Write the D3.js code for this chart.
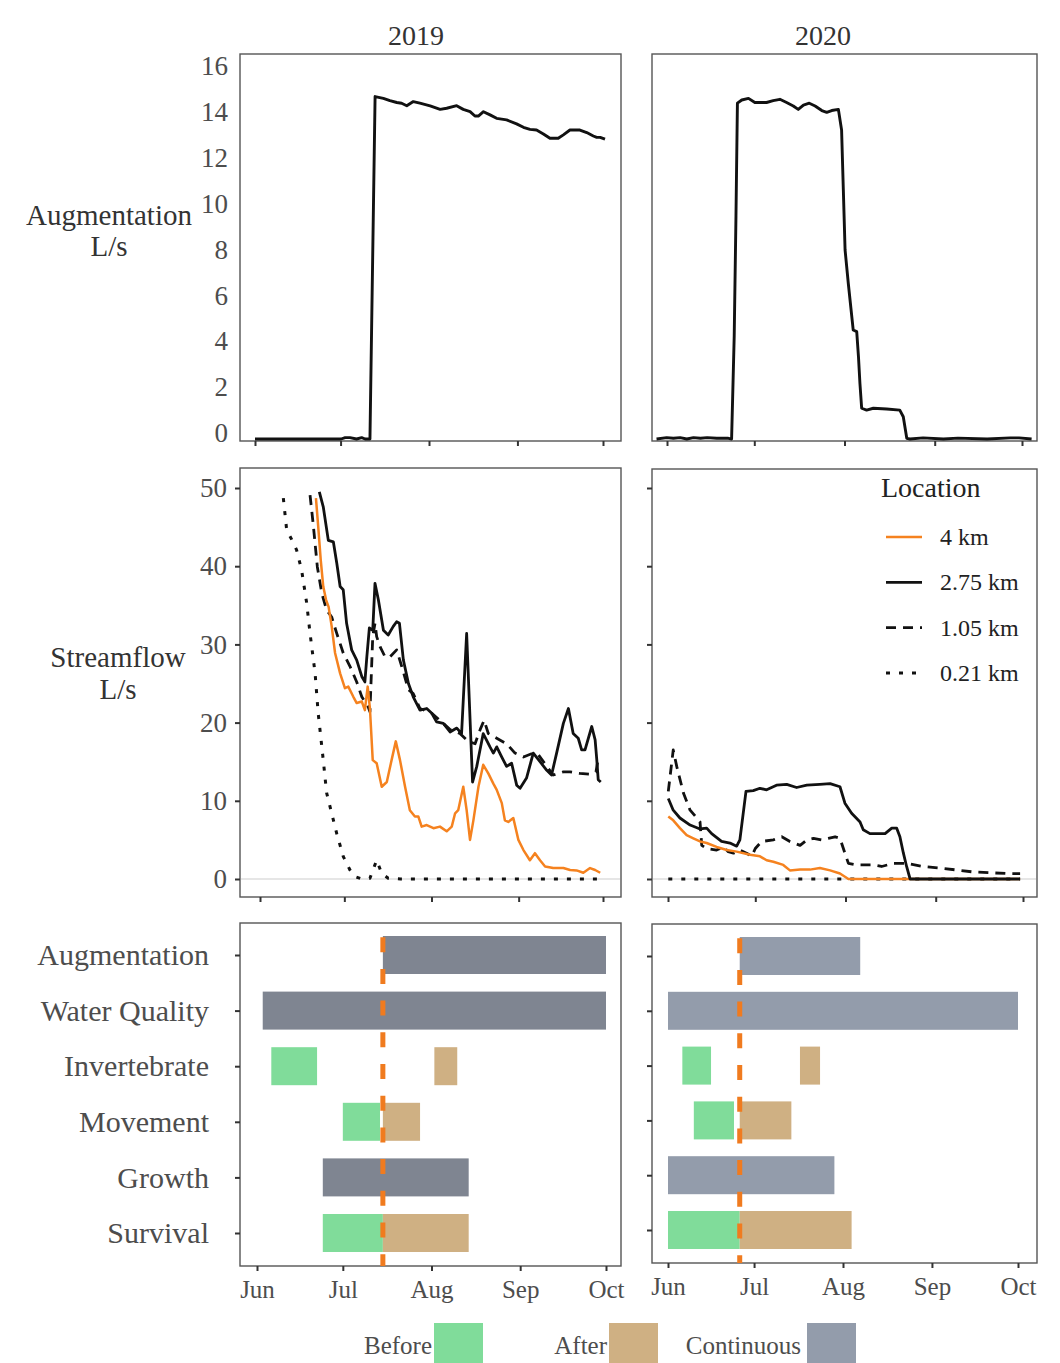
<!DOCTYPE html>
<html>
<head>
<meta charset="utf-8">
<script src="https://cdn.jsdelivr.net/npm/d3@7"></script>
<style>
  body { margin: 0; background: #fff; }
  svg text { font-family: "Liberation Serif", "Times New Roman", serif; }
</style>
</head>
<body>
<svg id="chart" width="1060" height="1363"></svg>
<script>
// data +++++++++++++++++++++++++++++++++++++++++
const years = [2019, 2020];
const categories = ["Augmentation", "Water Quality", "Invertebrate", "Movement", "Growth", "Survival"];
const phases = ["Before", "After", "Continuous"];
const locations = ["4 km", "2.75 km", "1.05 km", "0.21 km"];
const monthTicks = ["06-01", "07-01", "08-01", "09-01", "10-01"];
const augTicks = [0, 2, 4, 6, 8, 10, 12, 14, 16];
const flowTicks = [0, 10, 20, 30, 40, 50];
const augStart = { 2019: "07-15", 2020: "06-26" };

// series are [days since Jun 1, value]
const augmentation2019 = [[0,0],[30.2,0],[31.6,0.06],[33.3,0.06],[35.6,0],[37.4,0.06],[38.6,0],[40.3,0],[42.1,14.93],[45,14.85],[47.3,14.75],[49.7,14.67],[51.4,14.64],[53.2,14.53],[55.5,14.71],[57.8,14.64],[61.4,14.52],[64.9,14.37],[67.2,14.42],[70.7,14.53],[73,14.37],[75.4,14.27],[77.1,14.08],[78.3,14.08],[80.1,14.27],[82.4,14.13],[84.7,13.98],[88.2,13.91],[91.7,13.74],[94.1,13.59],[96.4,13.5],[98.7,13.47],[101.1,13.3],[103.4,13.11],[106.3,13.11],[108.1,13.26],[110.4,13.47],[113.9,13.47],[116.3,13.36],[118.6,13.21],[119.8,13.15],[121,13.15],[122.7,13.07]];
const augmentation2020 = [[-3.6,0],[-0.1,0.06],[2.2,0.03],[4.5,0.06],[6.8,0],[9.1,0.06],[11.5,0.03],[13.8,0.06],[17.1,0.03],[21.1,0.03],[22.2,0],[22.6,2.0],[23.1,4.5],[23.7,9.7],[24.2,14.64],[25.7,14.78],[28,14.85],[30.2,14.67],[34.2,14.67],[36.5,14.75],[38.8,14.81],[41.1,14.67],[43.4,14.52],[45.1,14.37],[46.9,14.56],[48.9,14.64],[50.9,14.52],[53.2,14.32],[54.9,14.24],[56.6,14.32],[58.9,14.37],[60,13.47],[60.6,10.86],[61.2,8.24],[62.3,6.79],[64,4.75],[65.2,4.68],[65.8,3.59],[66.3,2.43],[66.9,1.34],[68.6,1.26],[70.9,1.34],[75.5,1.31],[80,1.26],[81.2,0.97],[82.4,0.03],[83.5,0],[88,0.05],[95,0],[100,0.04],[110,0],[118,0.05],[121,0.05],[125.3,0]];

const flow4km2019 = [[19.9,48.7],[20.7,45.1],[21.6,40.8],[22.5,37.4],[23.5,35.7],[24.4,34.8],[25.5,32.3],[26.7,28.9],[28.5,26.3],[30.2,24.4],[31.4,24.6],[33.2,23.3],[34.4,22.5],[36.2,22.7],[37.3,21.6],[38.3,24.6],[39.1,21.8],[40.1,15.2],[41.5,14.8],[43.3,11.8],[45.1,12.4],[46.8,15.2],[48.3,17.6],[49.8,15.2],[51.6,11.8],[53.3,8.8],[55.1,8.0],[56.3,8.0],[57.5,6.7],[59.3,6.9],[61.7,6.5],[64,6.7],[66.4,6.1],[68.2,6.7],[69.4,8.4],[70.5,8.8],[72.3,11.8],[73.5,8.8],[74.7,5.0],[75.9,7.5],[77.7,11.8],[79.4,14.6],[81.2,13.5],[83,12.2],[84.2,11.4],[86,9.7],[87.1,7.5],[88.3,7.3],[90.1,7.8],[91.9,5.0],[93.7,3.7],[96,2.4],[97.8,3.3],[99.6,2.4],[101.4,1.6],[104.3,1.4],[107.9,1.4],[110.3,1.15],[112.6,1.1],[115,0.8],[117.4,1.4],[119.2,1.15],[121,0.8]];
const flow275km2019 = [[21.1,49.5],[22.5,47.6],[24.3,43.3],[26.1,43.1],[27.3,40.4],[28.5,37.4],[29.6,37.0],[30.8,32.7],[32.6,29.3],[34.4,28.0],[36.2,25.9],[37.3,25.2],[38,28.4],[38.9,32.1],[40.1,31.8],[40.9,37.8],[42.1,35.7],[43.9,31.8],[45.6,31.2],[47.4,32.3],[48.6,32.9],[49.6,32.7],[51,28],[52.8,25.0],[54.5,23.3],[56.9,21.6],[59.3,21.8],[61.1,21.2],[62.8,20.1],[65.2,19.9],[67.6,18.8],[70,19.3],[71.7,18.6],[73.5,31.4],[75.6,12.4],[77.1,14.4],[79.4,18.6],[81.8,16.9],[83,16.1],[84.2,16.9],[86,15.6],[87.7,14.4],[89.5,14.8],[91.3,12.0],[92.5,11.6],[94.8,12.9],[97.2,16.1],[99.6,15.0],[102,13.9],[103.7,13.3],[105.5,16.1],[107.9,19.9],[109.7,21.8],[111.4,18.6],[113.2,18.0],[114.4,16.5],[115.6,16.5],[118,19.5],[119.2,17.8],[119.8,15.2],[120.3,12.7],[121.2,12.4]];
const flow105km2019 = [[17.8,49.1],[19,45.1],[20.4,39.9],[22,36.5],[23.7,34.4],[25.5,33.5],[27.3,31.4],[29.6,28.9],[32,27.2],[34.4,25.2],[36.2,23.3],[38.5,22.0],[39.1,21.4],[40.1,31.0],[40.9,32.7],[41.5,31.0],[42.7,29.7],[44.5,28.4],[46.2,28.4],[48.6,29.3],[50.4,27.2],[52.8,24.2],[54.5,23.7],[56.9,21.8],[61.1,21.2],[65.2,19.9],[67.6,19.1],[71.1,18.6],[74.1,17.6],[76.5,17.3],[78.3,19.1],[79.7,20.3],[81.2,18.6],[84.2,18.0],[87.7,17.3],[90.7,16.1],[93.7,15.6],[97.2,16.1],[99,15.9],[102,14.4],[104.3,13.3],[107.9,13.7],[110.3,13.7],[113.8,13.5],[117.4,13.4],[119.5,13.7],[120.3,15.4],[121.2,15.6]];
const flow021km2019 = [[8.3,48.7],[9.5,44.6],[11.3,43.4],[13,42.1],[14.8,39.5],[16.6,35.3],[17.8,31.4],[19.6,26.3],[20.7,21.2],[22.5,15.2],[23.7,11.0],[25.5,8.4],[27.3,5.8],[29.6,2.9],[32,1.15],[33.8,0.3],[36.2,0],[39.1,0.1],[41.5,2.4],[43.3,0.7],[45.6,0.1],[50,0],[121.2,0]];

const flow4km2020 = [[0.1,8.0],[1.8,7.5],[4.1,6.5],[6.4,5.6],[8.7,5.2],[11,4.8],[13.3,4.6],[16.7,4.1],[20.2,3.7],[23.6,3.5],[28.2,3.1],[31.6,2.9],[33.9,2.4],[36.2,2.2],[39.6,1.8],[41.9,1.1],[45.4,1.2],[48.8,1.2],[52.2,1.4],[55.7,1.1],[59.1,0.7],[62,0],[121,0]];
const flow275km2020 = [[0.1,10.3],[1.8,8.8],[4.1,7.8],[7.6,6.9],[11,6.4],[13.3,6.5],[15,5.8],[18.4,4.8],[21.3,4.6],[23.6,4.2],[24.7,5.0],[26.8,11.2],[29.3,11.3],[31.6,11.6],[33.9,11.4],[37.3,12.0],[40.8,12.1],[44.2,11.7],[47.7,12.0],[52.2,12.1],[55.7,12.2],[59.1,11.8],[60.8,9.7],[63.1,8.4],[66,7.3],[67.1,6.3],[69.4,5.8],[71.7,5.8],[74.6,5.8],[76.9,6.5],[78.6,6.5],[79.7,5.4],[80.9,3.3],[82,1.6],[83.2,0],[121,0]];
const flow105km2020 = [[0.1,11.2],[1.8,16.5],[3,14.4],[5.3,11.0],[7.6,8.8],[9.9,7.8],[11,7.3],[11.6,4.3],[13.3,3.9],[16.7,3.7],[19,4.1],[20.7,3.5],[22.5,3.3],[24.7,3.7],[27,3.3],[28.8,2.9],[30,3.9],[32.2,4.8],[36.2,5.0],[39.1,5.4],[41.9,4.8],[45.4,4.3],[47.7,5.0],[50,5.2],[52.8,5.0],[55.1,5.2],[57.4,5.4],[59.1,5.2],[60.8,3.3],[62,2.0],[64.8,1.8],[70.6,1.8],[73.4,1.6],[77.4,2.0],[82,2.0],[87.7,1.6],[93.5,1.4],[99.2,1.15],[104.9,0.9],[110.7,0.8],[116.4,0.7],[121,0.7]];
const flow021km2020 = [[0.1,0],[121,0]];

// study periods: [category, phase, start, end]
const periods2019 = [
  ["Augmentation", "Continuous", "07-15", "10-01"],
  ["Water Quality", "Continuous", "06-03", "10-01"],
  ["Invertebrate", "Before", "06-06", "06-22"],
  ["Invertebrate", "After", "08-02", "08-10"],
  ["Movement", "Before", "07-01", "07-14"],
  ["Movement", "After", "07-15", "07-28"],
  ["Growth", "Continuous", "06-24", "08-14"],
  ["Survival", "Before", "06-24", "07-15"],
  ["Survival", "After", "07-15", "08-14"]
];
const periods2020 = [
  ["Augmentation", "Continuous", "06-26", "08-07"],
  ["Water Quality", "Continuous", "06-01", "10-01"],
  ["Invertebrate", "Before", "06-06", "06-16"],
  ["Invertebrate", "After", "07-17", "07-24"],
  ["Movement", "Before", "06-10", "06-24"],
  ["Movement", "After", "06-26", "07-14"],
  ["Growth", "Continuous", "06-01", "07-29"],
  ["Survival", "Before", "06-01", "06-26"],
  ["Survival", "After", "06-26", "08-04"]
];
// data -------------------------------------------

const augSeries = { 2019: augmentation2019, 2020: augmentation2020 };
const flowSeries = {
  2019: [flow021km2019, flow105km2019, flow4km2019, flow275km2019],
  2020: [flow021km2020, flow105km2020, flow4km2020, flow275km2020]
};
const flowLocs = ["0.21 km", "1.05 km", "4 km", "2.75 km"]; // drawing order
const periods = { 2019: periods2019, 2020: periods2020 };

const lineStyle = {
  "4 km":    { stroke: "#f5821f", width: 2.5, dash: null },
  "2.75 km": { stroke: "#111", width: 2.8, dash: null },
  "1.05 km": { stroke: "#111", width: 2.8, dash: "10,7" },
  "0.21 km": { stroke: "#111", width: 3, dash: "4,9" }
};
const phaseColor = { Before: "#80dc9a", After: "#cfb083" };
const contColor = { 2019: "#7f8591", 2020: "#939cab" };
const orange = "#f07b1f";

// panel frames (px)
const cols = { 2019: { x0: 240, x1: 621 }, 2020: { x0: 652, x1: 1037 } };
const rows = {
  aug:  { 2019: { y0: 54, y1: 441, jun: 255, oct: 603 },  2020: { y0: 54, y1: 441, jun: 667, oct: 1022 } },
  flow: { 2019: { y0: 468, y1: 897, jun: 260, oct: 603 }, 2020: { y0: 469, y1: 897, jun: 668, oct: 1023 } },
  per:  { 2019: { y0: 923, y1: 1266, jun: 257, oct: 606 }, 2020: { y0: 924, y1: 1263, jun: 668, oct: 1018 } }
};

const svg = d3.select("#chart");
svg.append("rect").attr("width", 1060).attr("height", 1363).attr("fill", "#fff");

const parse = d3.timeParse("%Y-%m-%d");
const jun1 = yr => new Date(yr, 5, 1);
const fromDays = (yr, d) => new Date(+jun1(yr) + d * 864e5);

function xScale(yr, p) {
  return d3.scaleTime().domain([jun1(yr), new Date(yr, 9, 1)]).range([p.jun, p.oct]);
}

function styleAxis(g, fontSize) {
  g.select(".domain").remove();
  g.selectAll(".tick line").attr("stroke", "#333").attr("stroke-width", 2);
  g.selectAll(".tick text").attr("fill", "#4d4d4d").attr("font-size", fontSize);
}

function frame(yr, p) {
  svg.append("rect")
    .attr("x", cols[yr].x0).attr("y", p.y0)
    .attr("width", cols[yr].x1 - cols[yr].x0).attr("height", p.y1 - p.y0)
    .attr("fill", "none").attr("stroke", "#555").attr("stroke-width", 1.4);
}

function xAxis(yr, p, x, labels) {
  const g = svg.append("g").attr("transform", `translate(0,${p.y1})`)
    .call(d3.axisBottom(x)
      .tickValues(monthTicks.map(m => parse(`${yr}-${m}`)))
      .tickSize(5).tickPadding(9)
      .tickFormat(labels ? d3.timeFormat("%b") : ""));
  styleAxis(g, 25);
}

years.forEach(yr => {
  const c = cols[yr];

  // column title
  svg.append("text").attr("x", yr === 2019 ? 416 : 823).attr("y", 45)
    .attr("text-anchor", "middle").attr("font-size", 28).attr("fill", "#333").text(yr);

  // augmentation panel
  const pa = rows.aug[yr];
  const xa = xScale(yr, pa);
  const ya = d3.scaleLinear().domain([0, 16]).range([439, 72]);
  frame(yr, pa);
  if (yr === 2019) {
    // labels sit slightly above the baseline, as in the source figure
    const g = svg.append("g").attr("transform", `translate(${c.x0},-6)`)
      .call(d3.axisLeft(ya).tickValues(augTicks).tickSize(0).tickPadding(12));
    styleAxis(g, 27);
  }
  xAxis(yr, pa, xa, false);
  svg.append("path").datum(augSeries[yr])
    .attr("fill", "none").attr("stroke", "#111").attr("stroke-width", 2.9)
    .attr("stroke-linejoin", "round")
    .attr("d", d3.line().x(d => xa(fromDays(yr, d[0]))).y(d => ya(d[1])));

  // streamflow panel
  const pf = rows.flow[yr];
  const xf = xScale(yr, pf);
  const yf = d3.scaleLinear().domain([0, 50]).range([879, 488]);
  frame(yr, pf);
  const gy = svg.append("g").attr("transform", `translate(${c.x0},0)`)
    .call(d3.axisLeft(yf).tickValues(flowTicks).tickSize(5).tickPadding(8)
      .tickFormat(yr === 2019 ? d3.format("d") : ""));
  styleAxis(gy, 27);
  xAxis(yr, pf, xf, false);
  svg.append("line").attr("x1", c.x0 + 1).attr("x2", c.x1 - 1)
    .attr("y1", yf(0)).attr("y2", yf(0))
    .attr("stroke", "#e6e6e6").attr("stroke-width", 2);
  flowSeries[yr].forEach((s, i) => {
    const st = lineStyle[flowLocs[i]];
    svg.append("path").datum(s)
      .attr("fill", "none").attr("stroke", st.stroke).attr("stroke-width", st.width)
      .attr("stroke-dasharray", st.dash)
      .attr("stroke-linejoin", "round")
      .attr("d", d3.line().x(d => xf(fromDays(yr, d[0]))).y(d => yf(d[1])));
  });

  // study period panel
  const pp = rows.per[yr];
  const xp = xScale(yr, pp);
  const yp = d3.scalePoint().domain(categories).range([pp.y0 + 32, pp.y1 - 33]);
  frame(yr, pp);
  const gc = svg.append("g").attr("transform", `translate(${c.x0},0)`)
    .call(d3.axisLeft(yp).tickSize(5).tickPadding(26)
      .tickFormat(yr === 2019 ? (d => d) : ""));
  styleAxis(gc, 30);
  xAxis(yr, pp, xp, true);
  svg.append("g").selectAll("rect").data(periods[yr]).join("rect")
    .attr("x", d => xp(parse(`${yr}-${d[2]}`)))
    .attr("width", d => xp(parse(`${yr}-${d[3]}`)) - xp(parse(`${yr}-${d[2]}`)))
    .attr("y", d => yp(d[0]) - 19).attr("height", 38)
    .attr("fill", d => d[1] === "Continuous" ? contColor[yr] : phaseColor[d[1]]);
  const xs = xp(parse(`${yr}-${augStart[yr]}`));
  svg.append("line").attr("x1", xs).attr("x2", xs)
    .attr("y1", pp.y0).attr("y2", pp.y1)
    .attr("stroke", orange).attr("stroke-width", 5)
    .attr("stroke-dasharray", "15,16.7").attr("stroke-dashoffset", 17.5);
});

// y axis titles
[["Augmentation", 109, 225], ["L/s", 109, 256], ["Streamflow", 118, 667], ["L/s", 118, 699]]
  .forEach(([t, x, y]) => svg.append("text").attr("x", x).attr("y", y)
    .attr("text-anchor", "middle").attr("font-size", 29).attr("fill", "#333").text(t));

// location legend
const leg = svg.append("g");
leg.append("text").attr("x", 881).attr("y", 497).attr("font-size", 28).attr("fill", "#222").text("Location");
locations.forEach((loc, i) => {
  const y = 537 + i * 45.3;
  const st = lineStyle[loc];
  leg.append("line").attr("x1", 886).attr("x2", 922).attr("y1", y).attr("y2", y)
    .attr("stroke", st.stroke).attr("stroke-width", st.width).attr("stroke-dasharray", st.dash);
  leg.append("text").attr("x", 940).attr("y", y + 8).attr("font-size", 24).attr("fill", "#222").text(loc);
});

// phase legend
const phaseLegend = [["Before", 432, 434], ["After", 607, 609], ["Continuous", 801, 807]];
phaseLegend.forEach(([name, tx, sx], i) => {
  svg.append("text").attr("x", tx).attr("y", 1354).attr("text-anchor", "end")
    .attr("font-size", 25).attr("fill", "#4d4d4d").text(phases[i]);
  svg.append("rect").attr("x", sx).attr("y", 1323).attr("width", 49).attr("height", 40)
    .attr("fill", name === "Continuous" ? contColor[2020] : phaseColor[name]);
});
</script>
</body>
</html>
